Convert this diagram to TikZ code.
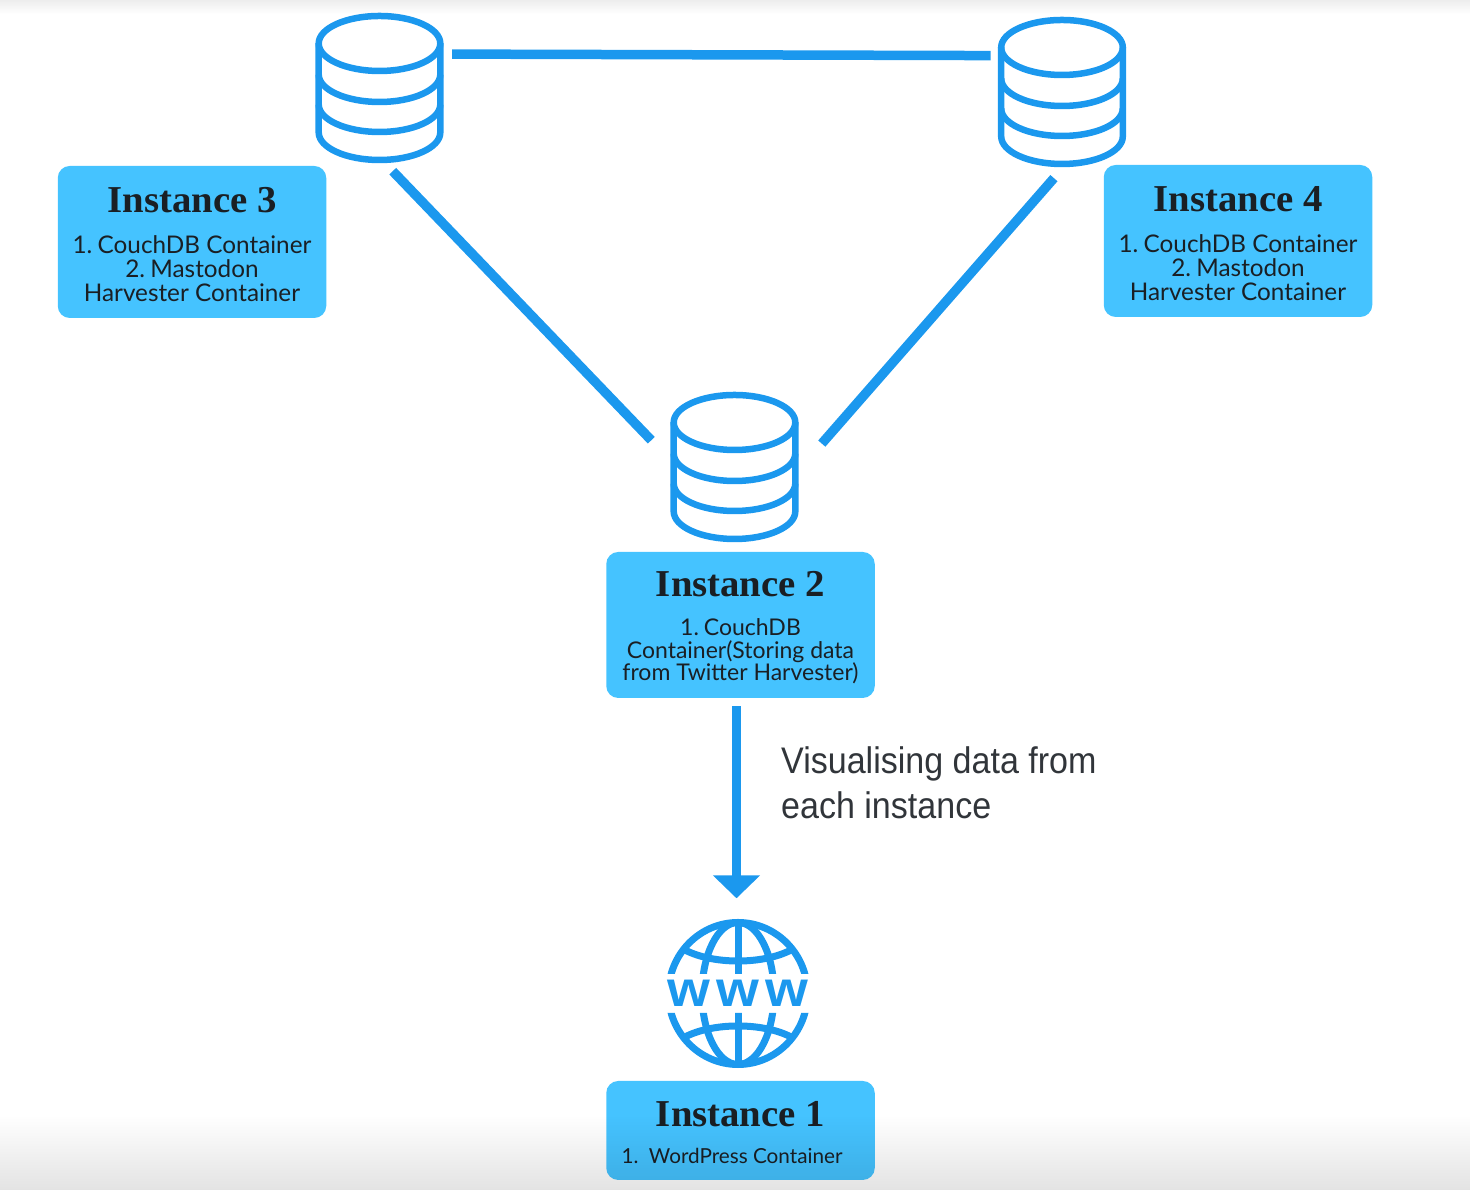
\documentclass[tikz,border=0pt]{standalone}
\usepackage{fontspec}
\setmainfont{Lato}
\newfontfamily\titlefont[FakeStretch=1.02]{Liberation Serif}
\newfontfamily\labelfont[FakeStretch=0.92]{Liberation Sans}
\newfontfamily\webfont[FakeStretch=1.1]{Liberation Sans}
\usetikzlibrary{arrows.meta,fadings}
\definecolor{iconblue}{HTML}{1B98EE}
\definecolor{boxblue}{HTML}{45C3FF}
\definecolor{inktext}{HTML}{1A1F24}
\newcommand{\boxhead}[1]{{\fontsize{38}{38}\selectfont\titlefont\bfseries\rule{0pt}{30pt}#1}}
\tikzset{
    box/.style={fill=boxblue, rounded corners=12pt, minimum width=268.5pt, align=center, inner sep=0pt,
                text=inktext, font=\fontsize{24.3}{24}\selectfont},
    iconspot/.style={circle, minimum size=160pt, inner sep=0pt},
    line/.style={iconblue, line width=9.5pt},
    flow/.style={iconblue, line width=9pt, -{Triangle[length=23pt,width=46pt]}},
    dbicon/.pic={
        \draw[iconblue, line width=6.5pt] (0,44.5) ellipse (60.8 and 27.5);
        \draw[iconblue, line width=6.5pt, line join=round] (-60.8,44.5) -- (-60.8,-44.5)
            arc[start angle=180, end angle=360, x radius=60.8, y radius=27.5] -- (60.8,44.5);
        \draw[iconblue, line width=6.5pt] (-60.8,13.5) arc[start angle=180, end angle=360, x radius=60.8, y radius=27.5];
        \draw[iconblue, line width=6.5pt] (-60.8,-16.5) arc[start angle=180, end angle=360, x radius=60.8, y radius=27.5];
    },
    globepart/.pic={
        \draw[iconblue, line width=7pt] (0,0) ellipse (69.5 and 71);
        \draw[iconblue, line width=7pt] (0,0) ellipse (36 and 71);
        \draw[iconblue, line width=7pt] (0,-71) -- (0,71);
        \draw[iconblue, line width=7pt] (-53,43.5) .. controls (-25,28.8) and (25,28.8) .. (53,43.5);
        \draw[iconblue, line width=7pt] (-53,-43.5) .. controls (-25,-28.8) and (25,-28.8) .. (53,-43.5);
    }
}
\begin{document}
\begin{tikzpicture}[x=1pt,y=1pt]
    \useasboundingbox (0,0) rectangle (1470,1190);

    % database icons
    \node[iconspot] (db3) at (379.5,1102) {};
    \node[iconspot] (db4) at (1062,1098) {};
    \node[iconspot] (db2) at (734.5,723) {};
    \pic at (db3) {dbicon};
    \pic at (db4) {dbicon};
    \pic at (db2) {dbicon};

    % globe, cut open for the www band
    \node[circle, minimum size=150pt, inner sep=0pt] (web) at (738,196.5) {};
    \begin{scope}
        \clip (600,216) rectangle (880,290) (600,177) rectangle (880,100);
        \pic at (web) {globepart};
    \end{scope}
    \node[text=iconblue, inner sep=0pt] (www) at (web)
        {\fontsize{50}{50}\selectfont\webfont\bfseries w\kern6.5pt w\kern6.5pt w};

    % boxes
    \node[box, minimum height=152pt] (inst3) at (192,948) {\boxhead{Instance 3}\\[16.5pt]1.\kern-1pt\ CouchDB Container\\2.\kern-1pt\ Mastodon\\Harvester Container};
    \node[box, minimum height=152pt] (inst4) at (1238,949) {\boxhead{Instance 4}\\[16.5pt]1.\kern-1pt\ CouchDB Container\\2.\kern-1pt\ Mastodon\\Harvester Container};
    \node[box, minimum height=146pt, font=\fontsize{23}{22.5}\selectfont] (inst2) at (740.5,565) {\boxhead{Instance 2}\\[17pt]1.\kern-1pt\ CouchDB\\Container(Storing data\\from Twitter Harvester)};
    \node[box, minimum height=99pt] (inst1) at (740.5,59.5) {\boxhead{Instance 1}\\[13pt]\hspace*{-17pt}{\fontsize{20.7}{24}\selectfont 1.\ \ WordPress Container}};

    \node[anchor=north west, inner sep=0pt, align=left, text=inktext!90!white, font=\fontsize{37}{45}\selectfont\labelfont] (note) at (781,444)
        {Visualising data from\\each instance};

    \draw[line] (db3.25.5) -- (db4.153.5);
    \draw[line, shorten <=5pt, shorten >=8.3pt] (db3.-83) -- (db2.165);
    \draw[line, shorten <=8pt, shorten >=12.6pt] (db4.-92) -- (db2.10.4);
    \draw[flow, shorten <=8pt, shorten >=20pt] ([xshift=-4pt]inst2.south) -- ([xshift=-1.5pt]web.north);

    % page shadow top and bottom
    \fill[black, opacity=.07, path fading=south] (0,1176) rectangle (1470,1190);
    \fill[black, opacity=.11, path fading=north] (0,0) rectangle (1470,75);
\end{tikzpicture}
\end{document}
